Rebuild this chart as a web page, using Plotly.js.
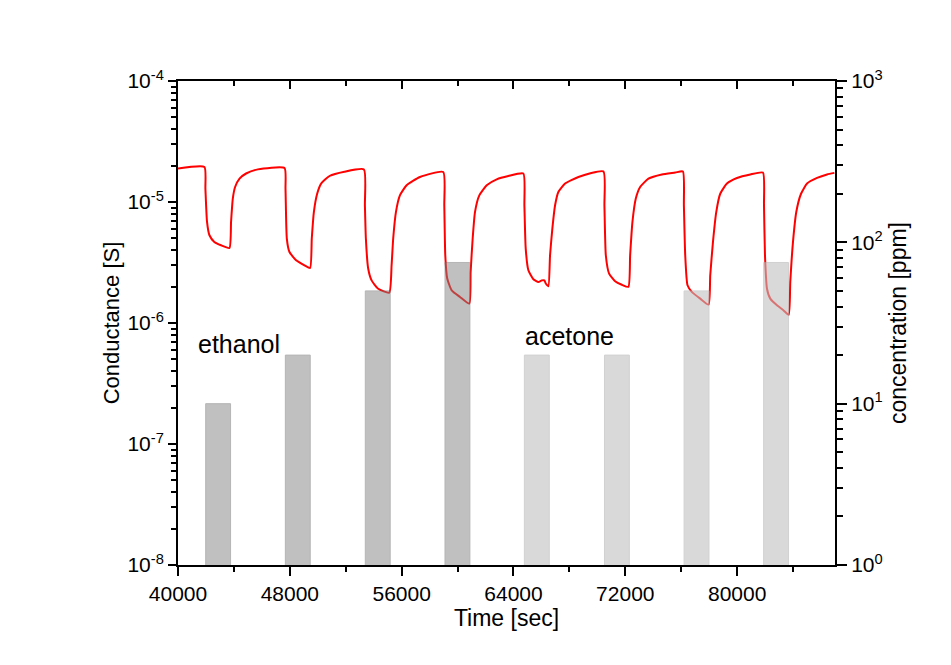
<!DOCTYPE html>
<html>
<head>
<meta charset="utf-8">
<script src="https://cdn.plot.ly/plotly-3.0.1.min.js"></script>
<style>
  html, body { margin: 0; padding: 0; background: #ffffff; }
  #chart { width: 951px; height: 665px; }
</style>
</head>
<body>
<div id="chart"></div>
<script>
// Conductance response (time in s, conductance in S)
const timeSec = [
  40000, 41890, 41960, 42077, 42250, 42600, 43080, 43680,
  43795, 43920, 44085, 44400, 44870, 45710, 47620,
  47690, 47785, 47975, 48450, 49050, 49450,
  49570, 49720, 49955, 50240, 50840, 51900, 53300,
  53370, 53440, 53605, 53850, 54320, 55110,
  55280, 55395, 55590, 55875, 56355, 57310, 58975,
  59050, 59120, 59260, 59580, 60170, 60840,
  60935, 61080, 61245, 61555, 62085, 62800, 63630, 64705,
  64780, 64875, 65065, 65420, 65780, 66020, 66210, 66310, 66495,
  66615, 66780, 66975, 67210, 67690, 68645, 70430,
  70505, 70605, 70840, 71270, 71750, 72220,
  72345, 72510, 72750, 73060, 73655, 74615, 75570, 76120,
  76190, 76285, 76450, 76770, 77360, 77955,
  78075, 78270, 78505, 78790, 79270, 79985, 80940, 81845,
  81920, 81990, 82135, 82370, 82850, 83325, 83685,
  83800, 83995, 84230, 84570, 85000, 85715, 86430, 86955
];
const conductance = [
  1.89e-5, 1.95e-5, 1.29e-5, 6.84e-6, 5.31e-6, 4.68e-6, 4.39e-6, 4.17e-6,
  6.84e-6, 1.067e-5, 1.33e-5, 1.56e-5, 1.72e-5, 1.86e-5, 1.91e-5,
  1.29e-5, 4.99e-6, 3.86e-6, 3.30e-6, 3.00e-6, 2.85e-6,
  4.99e-6, 8.26e-6, 1.17e-5, 1.42e-5, 1.64e-5, 1.78e-5, 1.86e-5,
  9.4e-6, 4.99e-6, 2.82e-6, 2.25e-6, 1.92e-6, 1.78e-6,
  3.00e-6, 4.99e-6, 8.26e-6, 1.135e-5, 1.374e-5, 1.61e-5, 1.77e-5,
  9.4e-6, 3.63e-6, 2.33e-6, 1.86e-6, 1.64e-6, 1.445e-6,
  2.64e-6, 4.99e-6, 8.26e-6, 1.135e-5, 1.374e-5, 1.54e-5, 1.64e-5, 1.72e-5,
  9.4e-6, 4.12e-6, 2.73e-6, 2.30e-6, 2.18e-6, 2.25e-6, 2.25e-6, 2.12e-6, 2.01e-6,
  3.63e-6, 6.03e-6, 9.4e-6, 1.21e-5, 1.42e-5, 1.61e-5, 1.79e-5,
  9.4e-6, 3.63e-6, 2.56e-6, 2.21e-6, 2.07e-6, 1.99e-6,
  3.63e-6, 6.84e-6, 1.067e-5, 1.33e-5, 1.56e-5, 1.69e-5, 1.75e-5, 1.79e-5,
  9.4e-6, 3.63e-6, 2.05e-6, 1.80e-6, 1.59e-6, 1.42e-6,
  2.48e-6, 4.68e-6, 8.26e-6, 1.17e-5, 1.42e-5, 1.58e-5, 1.69e-5, 1.75e-5,
  9.4e-6, 3.63e-6, 1.92e-6, 1.59e-6, 1.40e-6, 1.27e-6, 1.17e-6,
  2.18e-6, 4.68e-6, 8.26e-6, 1.17e-5, 1.42e-5, 1.58e-5, 1.69e-5, 1.74e-5
];

// Gas pulses (centre time in s, concentration in ppm)
const ethanolTime = [42870, 48570, 54290, 59990];
const ethanolPpm  = [10, 20, 50, 75];
const acetoneTime = [65670, 71400, 77095, 82785];
const acetonePpm  = [20, 20, 50, 75];

// Tick labels
const xTickVals = [40000, 48000, 56000, 64000, 72000, 80000];
const xTickText = ['40000', '48000', '56000', '64000', '72000', '80000'];
const yTickVals = [1e-8, 1e-7, 1e-6, 1e-5, 1e-4];
const yTickText = ['10<sup>-8</sup>', '10<sup>-7</sup>', '10<sup>-6</sup>', '10<sup>-5</sup>', '10<sup>-4</sup>'];
const y2TickVals = [1, 10, 100, 1000];
const y2TickText = ['10<sup>0</sup>', '10<sup>1</sup>', '10<sup>2</sup>', '10<sup>3</sup>'];

const FONT = 'Arial, "Liberation Sans", sans-serif';

const traces = [
  {
    type: 'scatter', mode: 'lines',
    x: timeSec, y: conductance,
    xaxis: 'x', yaxis: 'y',
    line: { color: '#ff0000', width: 2, shape: 'spline', smoothing: 0.5 },
    hoverinfo: 'skip', showlegend: false
  },
  {
    type: 'bar',
    x: ethanolTime, y: ethanolPpm, width: 1780,
    xaxis: 'x', yaxis: 'y2',
    marker: { color: 'rgb(130,130,130)', opacity: 0.5,
              line: { color: 'rgb(110,110,110)', width: 1 } },
    showlegend: false, hoverinfo: 'skip'
  },
  {
    type: 'bar',
    x: acetoneTime, y: acetonePpm, width: 1780,
    xaxis: 'x', yaxis: 'y2',
    marker: { color: 'rgb(192,192,192)', opacity: 0.6,
              line: { color: 'rgb(180,180,180)', width: 1 } },
    showlegend: false, hoverinfo: 'skip'
  },
  {
    type: 'scatter', mode: 'lines',
    x: [40000], y: [null],
    xaxis: 'x2', yaxis: 'y',
    showlegend: false, hoverinfo: 'skip'
  }
];

const layout = {
  width: 951, height: 665,
  paper_bgcolor: '#ffffff', plot_bgcolor: '#ffffff',
  margin: { l: 178, r: 116, t: 81, b: 100 },
  font: { family: FONT, color: '#000000', size: 20 },
  showlegend: false,
  barmode: 'overlay',
  xaxis: {
    range: [40000, 87000],
    tickmode: 'array', tickvals: xTickVals, ticktext: xTickText,
    ticks: 'outside', ticklen: 9, tickwidth: 2, tickcolor: '#000',
    minor: { dtick: 4000, tick0: 40000, ticks: 'outside', ticklen: 5, tickwidth: 2, tickcolor: '#000', showgrid: false },
    showline: true, linecolor: '#000', linewidth: 2, mirror: true,
    showgrid: false, zeroline: false,
    tickfont: { size: 21, family: FONT },
    title: { text: 'Time [sec]', font: { size: 23, family: FONT }, standoff: 4 }
  },
  xaxis2: {
    overlaying: 'x', side: 'top', anchor: 'y',
    range: [40000, 87000],
    tickmode: 'array', tickvals: xTickVals,
    ticks: 'inside', ticklen: 8, tickwidth: 2, tickcolor: '#000',
    minor: { dtick: 4000, tick0: 40000, ticks: 'inside', ticklen: 5, tickwidth: 2, tickcolor: '#000', showgrid: false },
    showticklabels: false, showline: false, showgrid: false, zeroline: false
  },
  yaxis: {
    type: 'log', range: [-8, -4],
    tickmode: 'array', tickvals: yTickVals, ticktext: yTickText,
    ticks: 'outside', ticklen: 8, tickwidth: 2, tickcolor: '#000',
    minor: { dtick: 'D1', ticks: 'outside', ticklen: 5, tickwidth: 2, tickcolor: '#000', showgrid: false },
    showline: true, linecolor: '#000', linewidth: 2,
    showgrid: false, zeroline: false,
    tickfont: { size: 21, family: FONT },
    title: { text: 'Conductance [S]', font: { size: 22, family: FONT }, standoff: 2 }
  },
  yaxis2: {
    type: 'log', range: [0, 3],
    overlaying: 'y', side: 'right', anchor: 'x',
    tickmode: 'array', tickvals: y2TickVals, ticktext: y2TickText,
    ticks: 'outside', ticklen: 10, tickwidth: 2, tickcolor: '#000',
    minor: { dtick: 'D1', ticks: 'outside', ticklen: 6, tickwidth: 2, tickcolor: '#000', showgrid: false },
    showline: true, linecolor: '#000', linewidth: 2,
    showgrid: false, zeroline: false,
    tickfont: { size: 21, family: FONT },
    title: { text: 'concentration [ppm]', font: { size: 23, family: FONT }, standoff: 8 }
  },
  annotations: [
    { text: 'ethanol', xref: 'x', yref: 'paper', x: 44380, y: 0.456,
      showarrow: false, font: { size: 25, family: FONT, color: '#000' } },
    { text: 'acetone', xref: 'x', yref: 'paper', x: 68010, y: 0.473,
      showarrow: false, font: { size: 25, family: FONT, color: '#000' } }
  ]
};

Plotly.newPlot('chart', traces, layout, { displayModeBar: false, staticPlot: true });
</script>
</body>
</html>
